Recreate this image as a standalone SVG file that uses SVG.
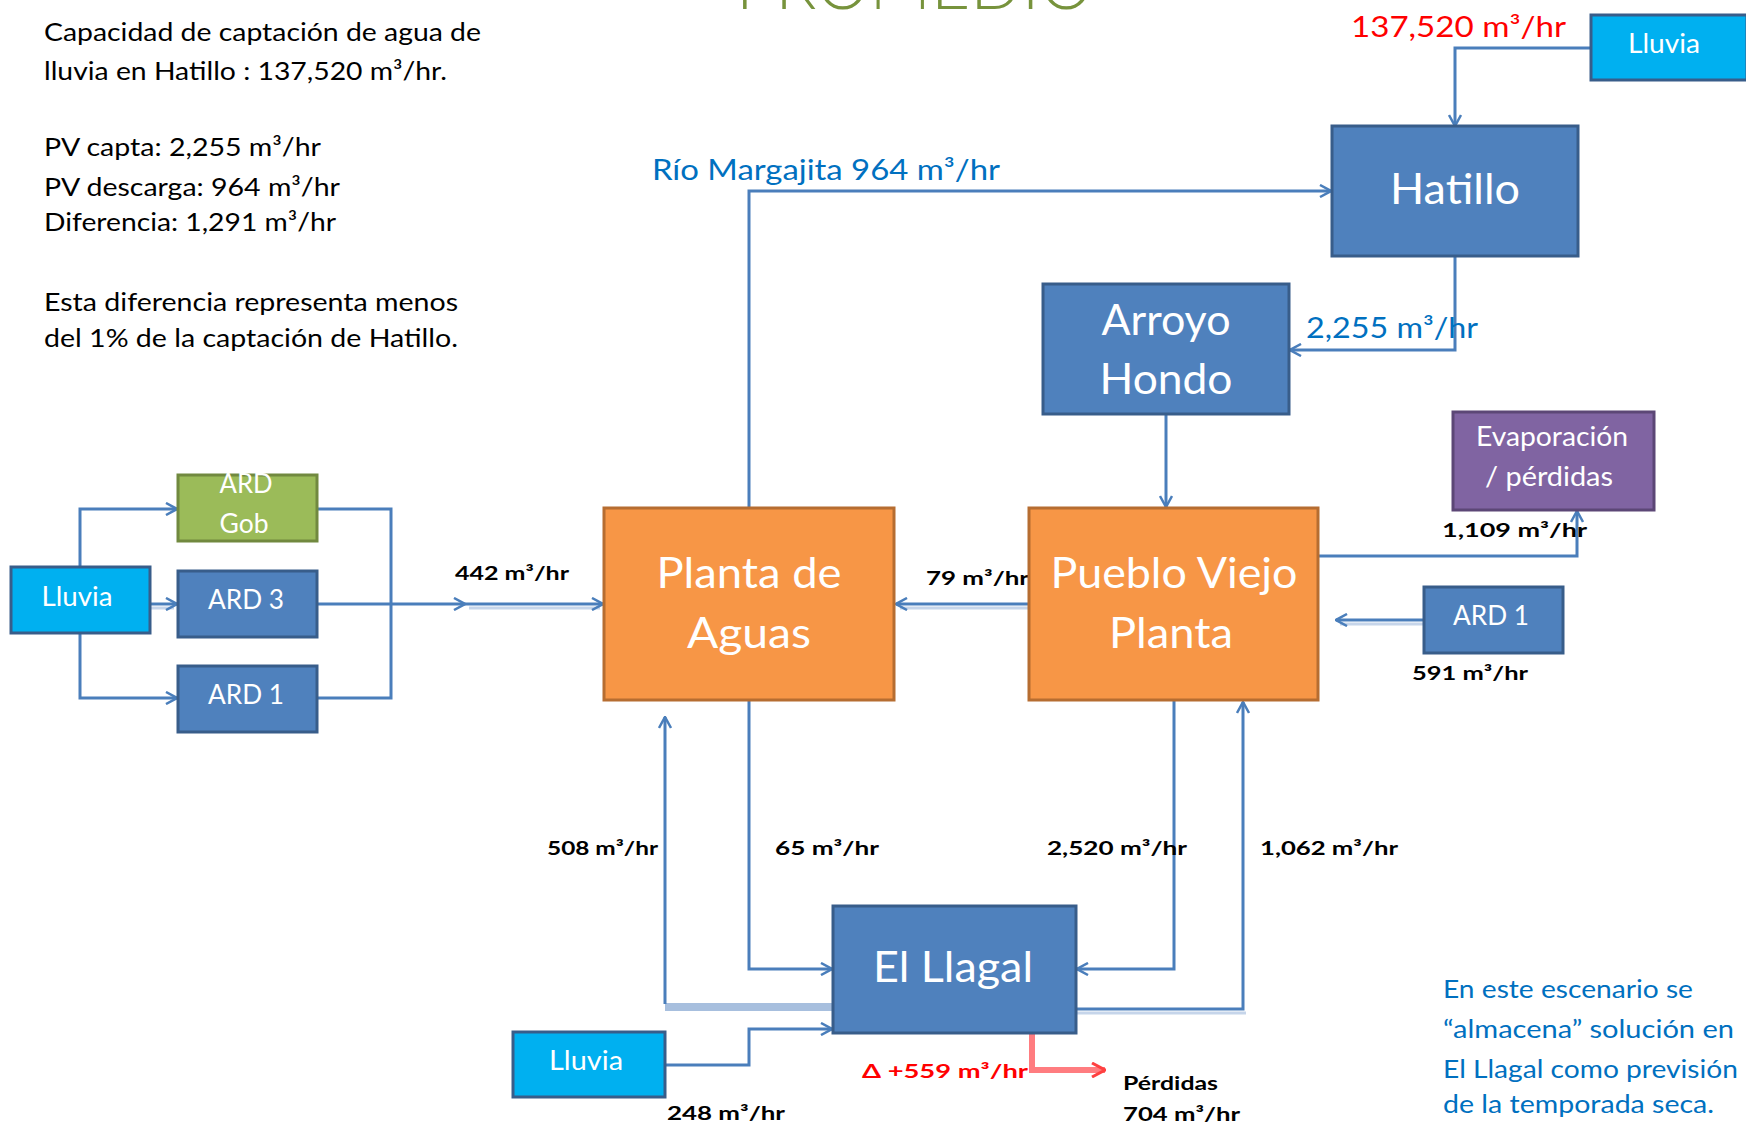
<svg xmlns="http://www.w3.org/2000/svg" width="1746" height="1124" viewBox="0 0 1746 1124">
<defs>
<style>
text{font-family:Lato,'Open Sans','Liberation Sans',sans-serif}
.box{stroke-width:3}
.blue{fill:#4F81BD;stroke:#385D8A}
.orange{fill:#F79646;stroke:#B66D31}
.green{fill:#9BBB59;stroke:#71893F}
.purple{fill:#8064A2;stroke:#5C4776}
.cyan{fill:#00B0F0;stroke:#385D8A}
.big{fill:#fff;font-size:42px;text-anchor:middle}
.mid{fill:#fff;font-size:26px;text-anchor:middle}
.conn{fill:none;stroke:#4A7EBB;stroke-width:3}
.shadow{fill:none;stroke:#C6D5EA;stroke-width:3}
.band{fill:none;stroke:#A7BFDE;stroke-width:8}
.red{fill:none;stroke:#FF7C80;stroke-width:6}
.lbl{fill:#000;font-size:19px;font-weight:700}
.note{fill:#000;font-size:25px}
.bl{fill:#0070C0;font-size:28px}
.bn{fill:#0070C0;font-size:25px}
.rd{fill:#FF0000}
</style>
<marker id="a" viewBox="0 0 14 14" refX="13" refY="7" markerWidth="14" markerHeight="14" orient="auto" markerUnits="userSpaceOnUse">
<path d="M2,1 L13,7 L2,13" fill="none" stroke="#4A7EBB" stroke-width="2.5"/>
</marker>
<marker id="ar" viewBox="0 0 16 16" refX="15" refY="8" markerWidth="16" markerHeight="16" orient="auto" markerUnits="userSpaceOnUse">
<path d="M2,1 L15,8 L2,15" fill="none" stroke="#FF4040" stroke-width="3"/>
</marker>
</defs>
<rect width="1746" height="1124" fill="#fff"/>

<text x="736" y="9" font-size="72" font-weight="300" fill="#77933C" textLength="357" lengthAdjust="spacingAndGlyphs">PROMEDIO</text>

<g id="notes-left">
<text class="note" x="44" y="41" textLength="437" lengthAdjust="spacingAndGlyphs">Capacidad de captación de agua de</text>
<text class="note" x="44" y="80" textLength="403" lengthAdjust="spacingAndGlyphs">lluvia en Hatillo : 137,520 m³/hr.</text>
<text class="note" x="44" y="156" textLength="277" lengthAdjust="spacingAndGlyphs">PV capta: 2,255 m³/hr</text>
<text class="note" x="44" y="196" textLength="296" lengthAdjust="spacingAndGlyphs">PV descarga: 964 m³/hr</text>
<text class="note" x="44" y="231" textLength="292" lengthAdjust="spacingAndGlyphs">Diferencia: 1,291 m³/hr</text>
<text class="note" x="44" y="311" textLength="414" lengthAdjust="spacingAndGlyphs">Esta diferencia representa menos</text>
<text class="note" x="44" y="347" textLength="414" lengthAdjust="spacingAndGlyphs">del 1% de la captación de Hatillo.</text>
</g>

<g id="notes-right">
<text class="bn" x="1443" y="998" textLength="250" lengthAdjust="spacingAndGlyphs">En este escenario se</text>
<text class="bn" x="1443" y="1038" textLength="291" lengthAdjust="spacingAndGlyphs">“almacena” solución en</text>
<text class="bn" x="1443" y="1078" textLength="295" lengthAdjust="spacingAndGlyphs">El Llagal como previsión</text>
<text class="bn" x="1443" y="1113" textLength="271" lengthAdjust="spacingAndGlyphs">de la temporada seca.</text>
</g>

<g id="connectors">
<path class="conn" d="M1591,48 H1455 V126" marker-end="url(#a)"/>
<path class="conn" d="M749,508 V191 H1331" marker-end="url(#a)"/>
<path class="conn" d="M1455,256 V350 H1290" marker-end="url(#a)"/>
<path class="conn" d="M1166,414 V507" marker-end="url(#a)"/>
<path class="conn" d="M1318,556 H1577 V511" marker-end="url(#a)"/>
<path class="shadow" d="M1424,624 H1340"/>
<path class="conn" d="M1424,620 H1336" marker-end="url(#a)"/>
<path class="shadow" d="M1029,608 H900"/>
<path class="conn" d="M1029,604 H896" marker-end="url(#a)"/>
<path class="conn" d="M80,567 V509 H177" marker-end="url(#a)"/>
<path class="shadow" d="M150,608 H174"/>
<path class="conn" d="M150,604 H177" marker-end="url(#a)"/>
<path class="conn" d="M80,633 V698 H177" marker-end="url(#a)"/>
<path class="conn" d="M317,509 H391 V698 H317"/>
<path class="conn" d="M317,604 H465" marker-end="url(#a)"/>
<path class="shadow" d="M469,608 H600"/>
<path class="conn" d="M465,604 H603" marker-end="url(#a)"/>
<path class="conn" d="M749,700 V969 H832" marker-end="url(#a)"/>
<path class="band" d="M833,1007 H665"/>
<path class="conn" d="M665,1004 V717" marker-end="url(#a)"/>
<path class="conn" d="M1174,700 V969 H1077" marker-end="url(#a)"/>
<path class="shadow" d="M1077,1013 H1246"/>
<path class="conn" d="M1076,1009 H1243 V702" marker-end="url(#a)"/>
<path class="conn" d="M665,1065 H749 V1029 H832" marker-end="url(#a)"/>
<path class="red" d="M1032,1034 V1070 H1105" marker-end="url(#ar)"/>
</g>

<g id="flow-labels">
<text x="1351" y="37" class="rd" font-size="28" textLength="215" lengthAdjust="spacingAndGlyphs">137,520 m³/hr</text>
<text class="bl" x="652" y="180" textLength="348" lengthAdjust="spacingAndGlyphs">Río Margajita 964 m³/hr</text>
<text class="bl" x="1306" y="338" textLength="172" lengthAdjust="spacingAndGlyphs">2,255 m³/hr</text>
<text class="lbl" x="1442" y="537" textLength="145" lengthAdjust="spacingAndGlyphs">1,109 m³/hr</text>
<text class="lbl" x="1412" y="680" textLength="116" lengthAdjust="spacingAndGlyphs">591 m³/hr</text>
<text class="lbl" x="455" y="580" textLength="114" lengthAdjust="spacingAndGlyphs">442 m³/hr</text>
<text class="lbl" x="926" y="585" textLength="103" lengthAdjust="spacingAndGlyphs">79 m³/hr</text>
<text class="lbl" x="547" y="855" textLength="111" lengthAdjust="spacingAndGlyphs">508 m³/hr</text>
<text class="lbl" x="775" y="855" textLength="104" lengthAdjust="spacingAndGlyphs">65 m³/hr</text>
<text class="lbl" x="1047" y="855" textLength="140" lengthAdjust="spacingAndGlyphs">2,520 m³/hr</text>
<text class="lbl" x="1260" y="855" textLength="138" lengthAdjust="spacingAndGlyphs">1,062 m³/hr</text>
<text class="lbl" x="667" y="1120" textLength="118" lengthAdjust="spacingAndGlyphs">248 m³/hr</text>
<text class="lbl rd" x="862" y="1078" textLength="166" lengthAdjust="spacingAndGlyphs">Δ +559 m³/hr</text>
<text class="lbl" x="1123" y="1090" textLength="95" lengthAdjust="spacingAndGlyphs">Pérdidas</text>
<text class="lbl" x="1123" y="1121" textLength="117" lengthAdjust="spacingAndGlyphs">704 m³/hr</text>
</g>

<g id="lluvia-hatillo">
<rect class="box cyan" x="1591" y="15" width="156" height="65"/>
<text class="mid" x="1664" y="53" textLength="72" lengthAdjust="spacingAndGlyphs">Lluvia</text>
</g>
<g id="hatillo">
<rect class="box blue" x="1332" y="126" width="246" height="130"/>
<text class="big" x="1455" y="204" textLength="130" lengthAdjust="spacingAndGlyphs">Hatillo</text>
</g>
<g id="arroyo-hondo">
<rect class="box blue" x="1043" y="284" width="246" height="130"/>
<text class="big" x="1166" y="335" textLength="129" lengthAdjust="spacingAndGlyphs">Arroyo</text>
<text class="big" x="1166" y="394" textLength="133" lengthAdjust="spacingAndGlyphs">Hondo</text>
</g>
<g id="evaporacion">
<rect class="box purple" x="1453" y="412" width="201" height="98"/>
<text class="mid" x="1552" y="446" textLength="152" lengthAdjust="spacingAndGlyphs">Evaporación</text>
<text class="mid" x="1549" y="486" textLength="128" lengthAdjust="spacingAndGlyphs">/ pérdidas</text>
</g>
<g id="ard1-right">
<rect class="box blue" x="1424" y="587" width="139" height="66"/>
<text class="mid" x="1491" y="625" textLength="76" lengthAdjust="spacingAndGlyphs">ARD 1</text>
</g>
<g id="planta-aguas">
<rect class="box orange" x="604" y="508" width="290" height="192"/>
<text class="big" x="749" y="588" textLength="185" lengthAdjust="spacingAndGlyphs">Planta de</text>
<text class="big" x="749" y="648" textLength="124" lengthAdjust="spacingAndGlyphs">Aguas</text>
</g>
<g id="pueblo-viejo">
<rect class="box orange" x="1029" y="508" width="289" height="192"/>
<text class="big" x="1174" y="588" textLength="247" lengthAdjust="spacingAndGlyphs">Pueblo Viejo</text>
<text class="big" x="1171" y="648" textLength="124" lengthAdjust="spacingAndGlyphs">Planta</text>
</g>
<g id="lluvia-left">
<rect class="box cyan" x="11" y="567" width="139" height="66"/>
<text class="mid" x="77" y="606" textLength="71" lengthAdjust="spacingAndGlyphs">Lluvia</text>
</g>
<g id="ard-gob">
<rect class="box green" x="178" y="475" width="139" height="66"/>
<text class="mid" x="246" y="493" textLength="53" lengthAdjust="spacingAndGlyphs">ARD</text>
<text class="mid" x="244" y="533" textLength="49" lengthAdjust="spacingAndGlyphs">Gob</text>
</g>
<g id="ard3">
<rect class="box blue" x="178" y="571" width="139" height="66"/>
<text class="mid" x="246" y="609" textLength="76" lengthAdjust="spacingAndGlyphs">ARD 3</text>
</g>
<g id="ard1-left">
<rect class="box blue" x="178" y="666" width="139" height="66"/>
<text class="mid" x="246" y="704" textLength="76" lengthAdjust="spacingAndGlyphs">ARD 1</text>
</g>
<g id="el-llagal">
<rect class="box blue" x="833" y="906" width="243" height="127"/>
<text class="big" x="953" y="982" textLength="160" lengthAdjust="spacingAndGlyphs">El Llagal</text>
</g>
<g id="lluvia-bottom">
<rect class="box cyan" x="513" y="1032" width="152" height="65"/>
<text class="mid" x="586" y="1070" textLength="74" lengthAdjust="spacingAndGlyphs">Lluvia</text>
</g>
</svg>
